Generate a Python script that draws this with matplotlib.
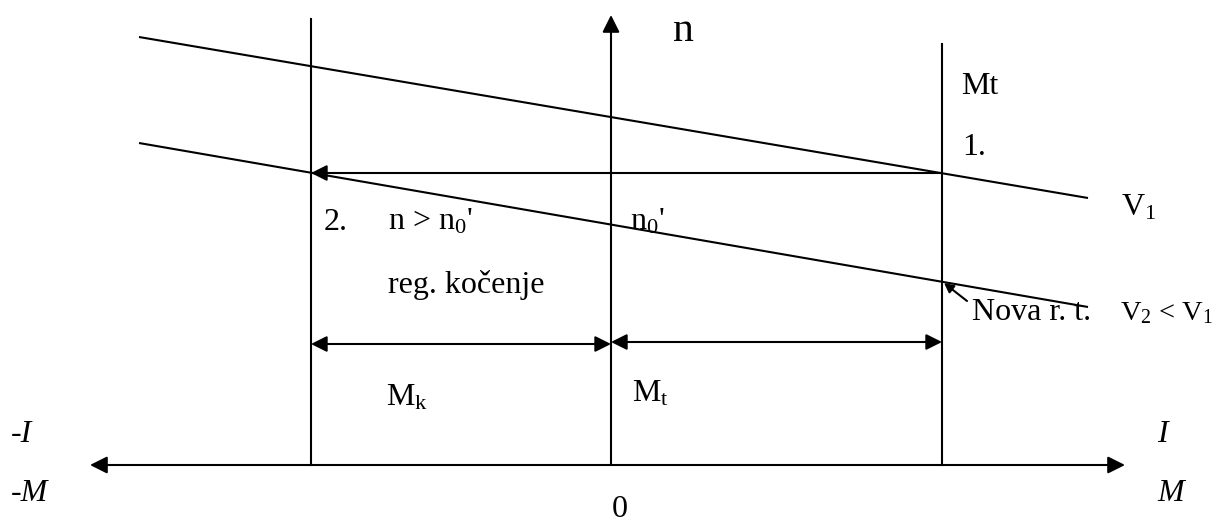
import matplotlib
matplotlib.use("Agg")
import matplotlib.pyplot as plt

plt.rcParams['font.family'] = ['Liberation Serif', 'DejaVu Serif']
plt.rcParams['mathtext.fontset'] = 'custom'
plt.rcParams['mathtext.rm'] = 'Liberation Serif'
plt.rcParams['mathtext.it'] = 'Liberation Serif:italic'

# Diagram data (torque M horizontal, speed n vertical; origin at the axes crossing)
M_line_ends = [-472, 477]          # extent of the two speed characteristics
n_V1 = [428, 267]                  # characteristic V1 (higher speed)
n_V2 = [322, 158]                  # characteristic V2 < V1
M_k = -300                         # braking torque (regenerative)
M_t = 331                          # load torque
n_op1 = 292                        # operating point 1 on V1
n_op_new = 182                     # new operating point on V2
M_axis = [-521, 514]               # horizontal axis extent
n_axis_top = 450                   # vertical axis arrow tip
n_Mk_top = 446                     # top of left vertical line
n_Mt_top = 421                     # top of right vertical line
n_dim_k = 121                      # dimension arrow for M_k
n_dim_t = 123                      # dimension arrow for M_t

fig = plt.figure(figsize=(12.17, 5.25), dpi=100)
ax = fig.add_axes([0, 0, 1, 1])
ax.set_xlim(-611, 1217 - 611)
ax.set_ylim(465 - 525, 465)
ax.axis('off')

LW = 1.5
K = 'black'

# speed characteristics
ax.plot(M_line_ends, n_V1, color=K, lw=LW, solid_capstyle='butt')
ax.plot(M_line_ends, n_V2, color=K, lw=LW, solid_capstyle='butt')

# vertical lines for M_k and M_t
ax.plot([M_k, M_k], [0, n_Mk_top], color=K, lw=LW)
ax.plot([M_t, M_t], [0, n_Mt_top], color=K, lw=LW)

def arrow(x0, y0, x1, y1, style='-|>', ms=24):
    ax.annotate('', xy=(x1, y1), xytext=(x0, y0),
                arrowprops=dict(arrowstyle=style, color=K, lw=LW,
                                mutation_scale=ms, shrinkA=0, shrinkB=0))

# axes
arrow(M_axis[0], 0, M_axis[1], 0, style='<|-|>', ms=26)
arrow(0, 0, 0, n_axis_top, ms=26)

# transition from point 1 to point 2
arrow(M_t, n_op1, M_k, n_op1, ms=24)

# dimension arrows
arrow(M_k, n_dim_k, 0, n_dim_k, style='<|-|>', ms=24)
arrow(0, n_dim_t, M_t, n_dim_t, style='<|-|>', ms=24)

# pointer to new operating point
arrow(M_t + 25, n_op_new - 18, M_t + 2, n_op_new, ms=14)

FS = 23
def txt(x, y, s, **kw):
    # x, y given in figure pixels (left, baseline)
    ax.text(x - 611, 465 - y, s, fontsize=kw.pop('fs', FS), ha=kw.pop('ha', 'left'),
            va='baseline', color=K, **kw)

txt(673, 41, 'n', fs=30)
txt(961, 94, 'Mt')
txt(962, 155, '1.')
txt(1121, 215, 'V$_1$')
txt(972, 320, 'Nova r. t.')
txt(1120, 320, 'V$_2$ < V$_1$', fs=20.5)
txt(324, 230, '2.')
txt(388, 230, "n > n$_0$'")
txt(630, 230, "n$_0$'")
txt(388, 293, 'reg. kočenje')
txt(386, 405, 'M$_\\mathrm{k}$')
txt(632, 401, 'M$_\\mathrm{t}$')
txt(11, 442, '-I', style='italic')
txt(11, 501, '-M', style='italic')
txt(1157, 442, 'I', style='italic')
txt(1157, 501, 'M', style='italic')
txt(612, 517, '0')

fig.savefig('out.png', dpi=100)
